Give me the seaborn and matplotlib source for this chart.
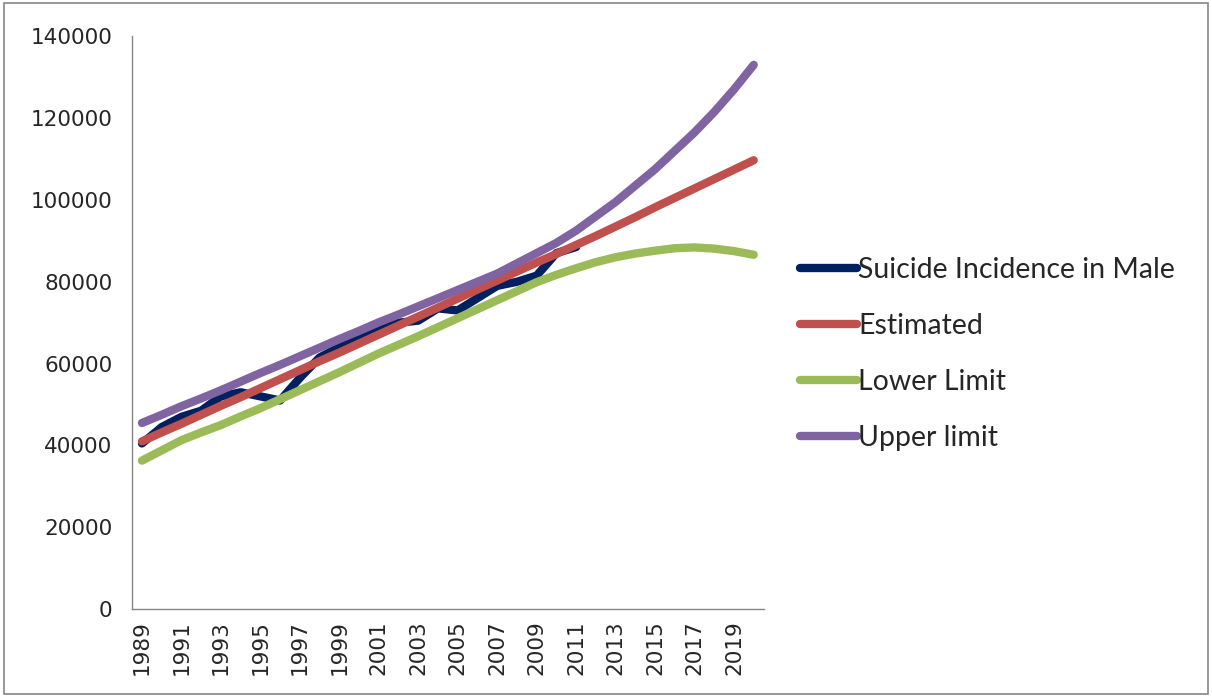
import numpy as np
import pandas as pd
import matplotlib
matplotlib.use('Agg')
import matplotlib.pyplot as plt
import seaborn as sns
from matplotlib.patches import Rectangle

# valores
anos = list(range(1989, 2021))

suicidio_masc = [40500, 44500, 47000, 48500, 52000, 53000, 52000, 51000, 56500, 61500,
                 64000, 66000, 68500, 70000, 70500, 73500, 73000, 76000, 79000, 80000,
                 81500, 87000, 88500]

estimado = [41000, 43200, 45300, 47500, 49700, 51800, 54000, 56200, 58400, 60600,
            62700, 64900, 67100, 69300, 71500, 73700, 75900, 78100, 80300, 82500,
            84700, 86800, 89000, 91200, 93500, 95800, 98200, 100500, 102800, 105100,
            107400, 109700]

limite_inf = [36300, 38800, 41300, 43200, 45000, 47100, 49100, 51300, 53500, 55700,
              57900, 60200, 62500, 64600, 66700, 68900, 71100, 73300, 75500, 77700,
              79900, 81700, 83300, 84800, 86000, 86900, 87600, 88200, 88400, 88100,
              87500, 86600]

limite_sup = [45500, 47500, 49600, 51500, 53500, 55600, 57700, 59700, 61800, 63900,
              66000, 68000, 70100, 72000, 74000, 76000, 78000, 80000, 82000, 84500,
              87000, 89500, 92500, 96000, 99500, 103500, 107500, 112000, 116500, 121500,
              127000, 133000]

series = ['Suicide Incidence in Male', 'Estimated', 'Lower Limit', 'Upper limit']
cores = ['#002060', '#C0504D', '#9BBB59', '#8064A2']

# montando dataframe longo
linhas = []
for nome, vals in zip(series, [suicidio_masc, estimado, limite_inf, limite_sup]):
    for ano, v in zip(anos, vals):
        linhas.append({'ano': ano, 'valor': v, 'serie': nome})
df = pd.DataFrame(linhas)

sns.set_style('white')
plt.rcParams['font.family'] = ['DejaVu Sans']

fig = plt.figure(figsize=(12.12, 6.97), dpi=100)
ax = fig.add_axes([0.109, 0.126, 0.521, 0.822])

sns.lineplot(data=df, x='ano', y='valor', hue='serie', hue_order=series,
             palette=dict(zip(series, cores)), linewidth=6, ax=ax,
             solid_capstyle='round', legend=True)

ax.set_xlim(1988.5, 2020.5)
ax.set_ylim(0, 140000)
ax.set_yticks(np.arange(0, 140001, 20000))
ax.set_yticklabels([str(v) for v in range(0, 140001, 20000)], fontsize=15.5)
ax.set_xticks(anos[::2])
ax.set_xticklabels([str(a) for a in anos[::2]], rotation=90, fontsize=15.5)
ax.set_xticks(np.arange(1988.5, 2021, 1), minor=True)
ax.tick_params(axis='x', which='major', length=0, pad=8)
ax.tick_params(axis='x', which='minor', length=6, color='#868686', direction='out')
ax.tick_params(axis='y', length=6, color='#868686', direction='out', pad=8)
ax.set_xlabel('')
ax.set_ylabel('')

for lado in ['top', 'right']:
    ax.spines[lado].set_visible(False)
for lado in ['left', 'bottom']:
    ax.spines[lado].set_color('#868686')
    ax.spines[lado].set_linewidth(1)

handles, labels = ax.get_legend_handles_labels()
for h in handles:
    h.set_linewidth(6)
    h.set_solid_capstyle('round')
ax.legend(handles, labels, loc='center left', bbox_to_anchor=(0.639, 0.492),
          bbox_transform=fig.transFigure, frameon=False, handlelength=2.0,
          handletextpad=0.05, labelspacing=1.06,
          prop={'family': 'Lato', 'size': 20.5})

# borda do grafico
fig.patches.append(Rectangle((0.003, 0.004), 0.994, 0.992, transform=fig.transFigure,
                             fill=False, edgecolor='#868686', linewidth=1.2))

fig.savefig('out.png', dpi=100)
